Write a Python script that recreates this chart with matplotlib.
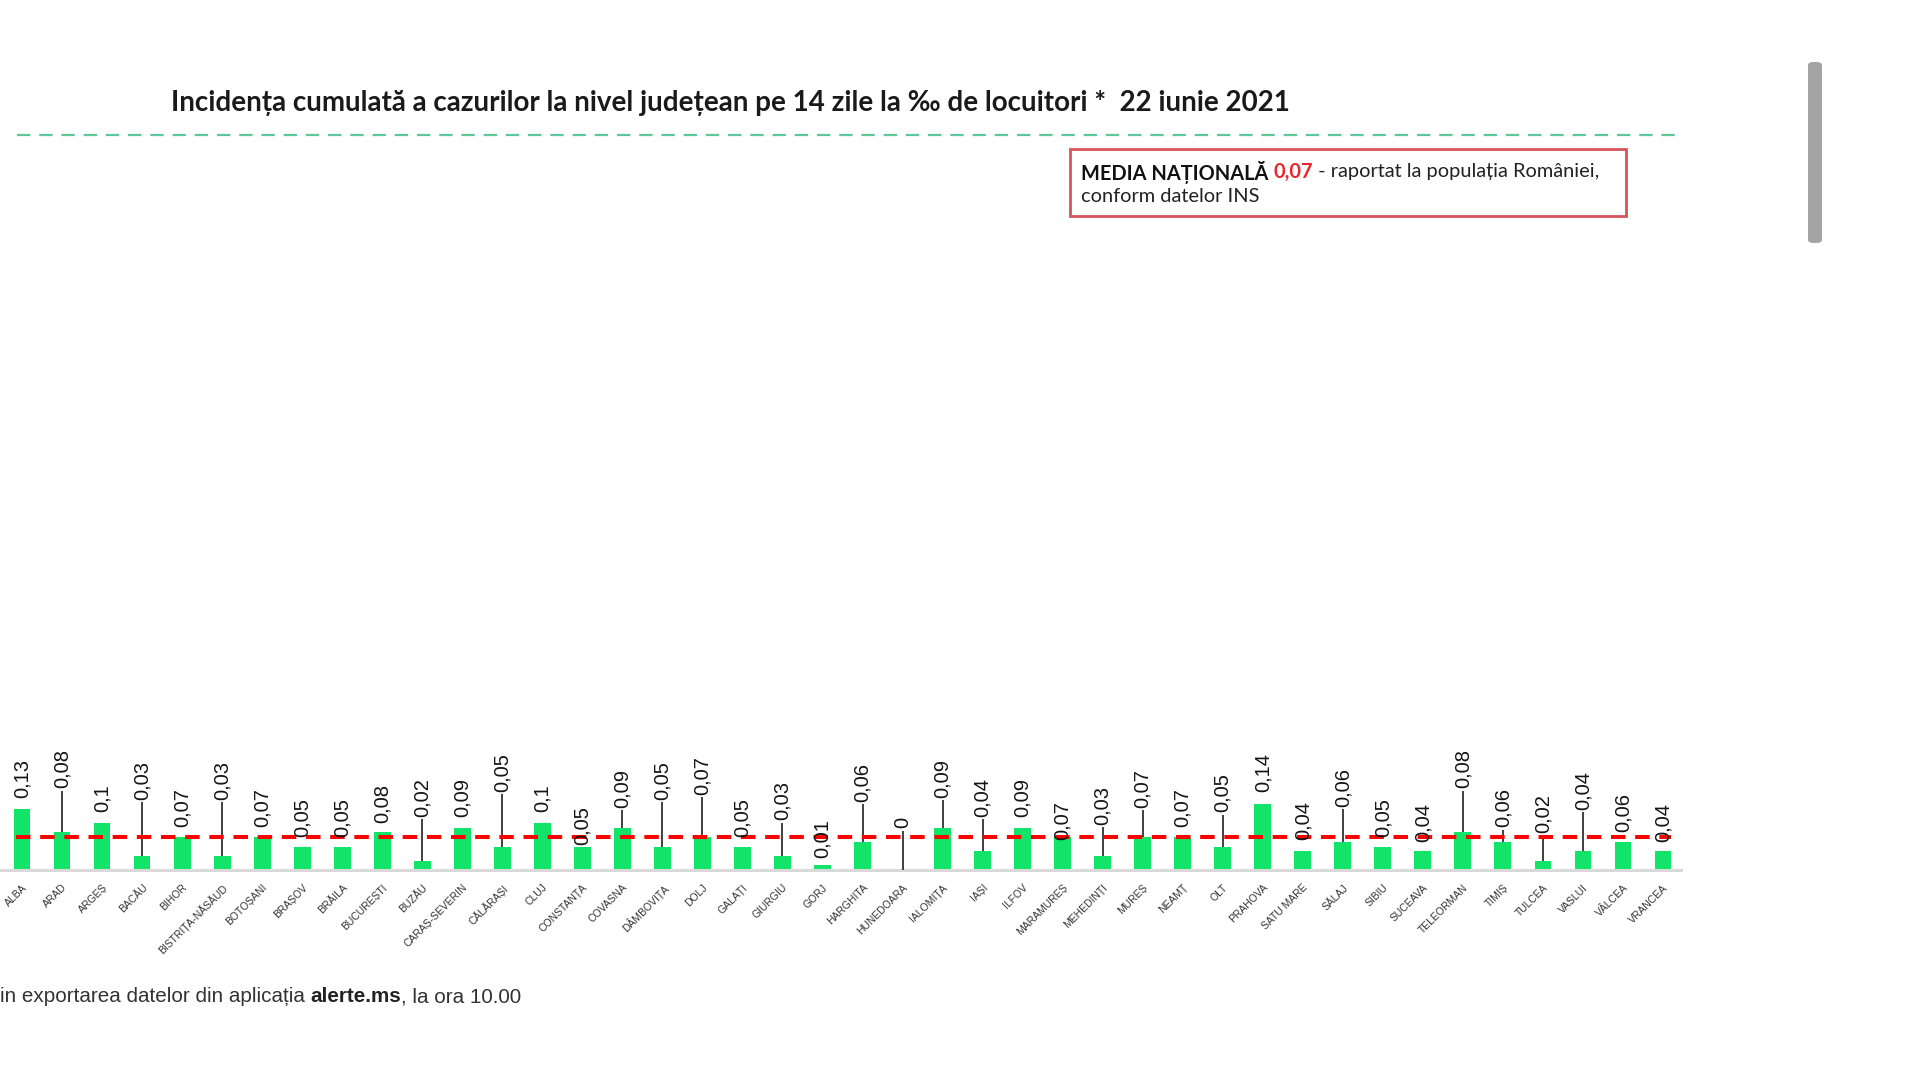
import matplotlib
matplotlib.use('Agg')
import matplotlib.pyplot as plt
from matplotlib.patches import Rectangle, FancyBboxPatch
from matplotlib.lines import Line2D

# ---------------- data ----------------
counties = ["ALBA", "ARAD", "ARGEȘ", "BACĂU", "BIHOR", "BISTRIȚA-NĂSĂUD", "BOTOȘANI",
            "BRAȘOV", "BRĂILA", "BUCUREȘTI", "BUZĂU", "CARAȘ-SEVERIN", "CĂLĂRAȘI",
            "CLUJ", "CONSTANȚA", "COVASNA", "DÂMBOVIȚA", "DOLJ", "GALAȚI", "GIURGIU",
            "GORJ", "HARGHITA", "HUNEDOARA", "IALOMIȚA", "IAȘI", "ILFOV", "MARAMUREȘ",
            "MEHEDINȚI", "MUREȘ", "NEAMȚ", "OLT", "PRAHOVA", "SATU MARE", "SĂLAJ",
            "SIBIU", "SUCEAVA", "TELEORMAN", "TIMIȘ", "TULCEA", "VASLUI", "VÂLCEA",
            "VRANCEA"]
values = [0.13, 0.08, 0.1, 0.03, 0.07, 0.03, 0.07,
          0.05, 0.05, 0.08, 0.02, 0.09, 0.05,
          0.1, 0.05, 0.09, 0.05, 0.07, 0.05, 0.03,
          0.01, 0.06, 0.0, 0.09, 0.04, 0.09, 0.07,
          0.03, 0.07, 0.07, 0.05, 0.14, 0.04, 0.06,
          0.05, 0.04, 0.08, 0.06, 0.02, 0.04, 0.06,
          0.04]
# where each (moved) data label starts, in data units
label_y = [0.153, 0.174, 0.123, 0.149, 0.091, 0.149, 0.091,
           0.070, 0.070, 0.100, 0.113, 0.113, 0.166,
           0.123, 0.053, 0.132, 0.149, 0.160, 0.070, 0.106,
           0.026, 0.145, 0.089, 0.153, 0.113, 0.113, 0.064,
           0.096, 0.132, 0.091, 0.123, 0.166, 0.064, 0.134,
           0.070, 0.060, 0.174, 0.091, 0.079, 0.128, 0.081,
           0.060]
national_avg = 0.07

title = "Incidența cumulată a cazurilor la nivel județean pe 14 zile la ‰ de locuitori *  22 iunie 2021"

# ---------------- figure ----------------
W, H = 1920, 1080
fig = plt.figure(figsize=(W / 100, H / 100), dpi=100)
fig.patch.set_facecolor('white')


def fx(px):
    return px / W


def fy(py):
    return 1 - py / H


ax = fig.add_axes([0, fy(870), 1681 / W, 141 / H])
xs = list(range(len(counties)))
ax.bar(xs, values, width=0.42, color='#12E46A', zorder=2)
ax.set_xlim(-0.55, 41.45)
ax.set_ylim(0, 0.3)
for s in ['top', 'left', 'right']:
    ax.spines[s].set_visible(False)
ax.spines['bottom'].set_color('#d9d9d9')
ax.spines['bottom'].set_linewidth(2.2)
ax.set_yticks([])
ax.set_xticks(xs)
ax.set_xticklabels(counties, rotation=45, ha='right', rotation_mode='anchor',
                   fontsize=7.5, color='#333333', family=['Liberation Sans', 'DejaVu Sans'])
ax.tick_params(axis='x', length=0, pad=9)
ax.patch.set_visible(False)

# national average line
ax.hlines(national_avg, -0.15, 41.2, colors='#ff0000', linewidth=2.9,
          linestyles=(0, (3.6, 2.4)), zorder=4)

# data labels with leader lines
for i, (v, ly) in enumerate(zip(values, label_y)):
    txt = f"{v:g}".replace('.', ',')
    ax.text(i, ly, txt, rotation=90, ha='center', va='bottom', fontsize=14.5,
            color='#141414', family=['Liberation Sans', 'DejaVu Sans'],
            zorder=5, clip_on=False)
    if ly - v > 0.03:
        ax.plot([i, i], [v, ly - 0.005], color='#404040', lw=1.4, zorder=3,
                clip_on=False, solid_capstyle='butt')

# ---------------- title & decorations ----------------
fig.text(fx(171), fy(103), title, ha='left', va='center', fontsize=20,
         fontweight='bold', color='#1a1a1a', family=['Lato', 'DejaVu Sans'])

fig.add_artist(Line2D([fx(17), fx(1680)], [fy(135), fy(135)], color='#5cc89a',
                      lw=1.6, linestyle=(0, (6, 4)), transform=fig.transFigure))

# info box
fig.add_artist(Rectangle((fx(1070), fy(216)), fx(1626) - fx(1070), fy(149) - fy(216),
                         transform=fig.transFigure, facecolor='white',
                         edgecolor='#d6545a', lw=2))

renderer = fig.canvas.get_renderer()


def run_text(x_px, y_px, parts, size, family):
    x = fx(x_px)
    for s, w, c in parts:
        t = fig.text(x, fy(y_px), s, ha='left', va='center', fontsize=size,
                     fontweight=w, color=c, family=family)
        bb = t.get_window_extent(renderer=renderer)
        x = bb.x1 / W


box_font = ['Lato', 'DejaVu Sans']
run_text(1081, 172, [("MEDIA NAȚIONALĂ ", 'bold', '#111111'),
                     ("0,07", 'bold', '#e8262b'),
                     (" - raportat la populația României,", 'normal', '#222222')],
         14.4, box_font)
run_text(1081, 196, [("conform datelor INS", 'normal', '#222222')], 14.4, box_font)

# footer
foot_font = ['Liberation Sans', 'DejaVu Sans']
run_text(0, 997, [("in exportarea datelor din aplicația ", 'normal', '#333333'),
                  ("alerte.ms", 'bold', '#222222'),
                  (", la ora 10.00", 'normal', '#333333')], 14.9, foot_font)

# scrollbar thumb
fig.add_artist(FancyBboxPatch((fx(1808), fy(243)), fx(1822) - fx(1808), fy(62) - fy(243),
                              boxstyle='round,pad=0,rounding_size=0.003',
                              transform=fig.transFigure, facecolor='#a3a3a3',
                              edgecolor='none'))

fig.savefig('out.png', dpi=100, facecolor='white')
